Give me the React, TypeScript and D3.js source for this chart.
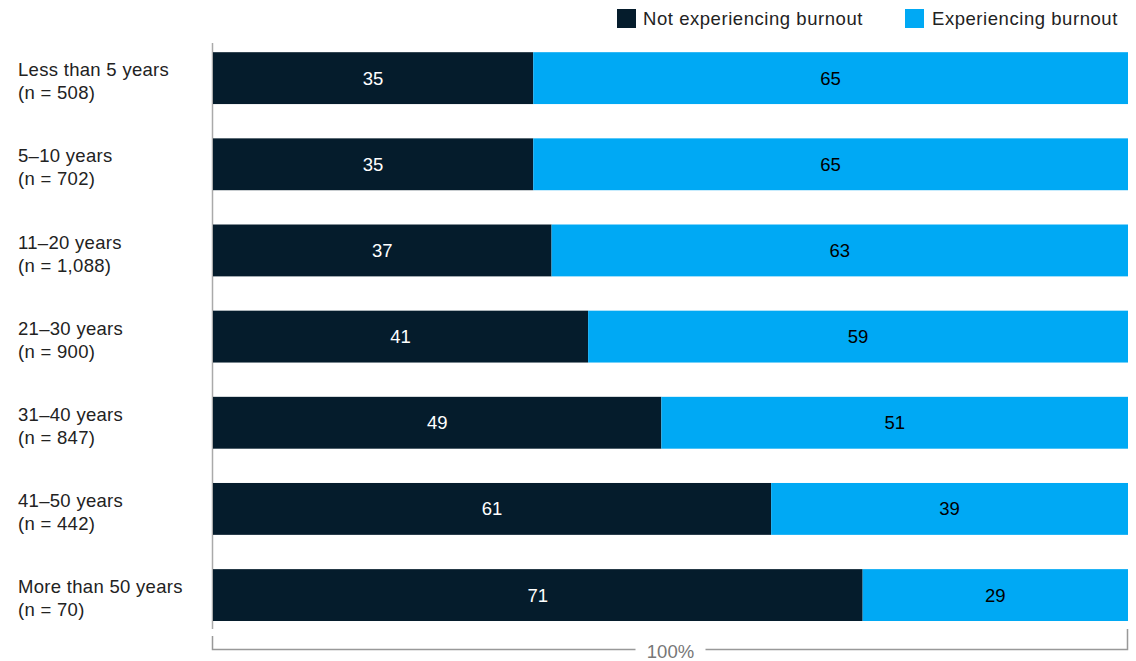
import React from "react";
import * as d3 from "d3";

const categories = [
  ["Less than 5 years", "(n = 508)"],
  ["5–10 years", "(n = 702)"],
  ["11–20 years", "(n = 1,088)"],
  ["21–30 years", "(n = 900)"],
  ["31–40 years", "(n = 847)"],
  ["41–50 years", "(n = 442)"],
  ["More than 50 years", "(n = 70)"],
];
const notBurnout = [35, 35, 37, 41, 49, 61, 71];
const burnout = [65, 65, 63, 59, 51, 39, 29];
const seriesNames = ["Not experiencing burnout", "Experiencing burnout"];
const colors = ["#051c2c", "#00a9f4"];
const totalLabel = "100%";

const W = 1136;
const H = 661;
const FONT = "'Liberation Sans', Arial, Helvetica, sans-serif";
const FS = 18.5;
const LS = 0.3;

export default function App() {
  const x = d3.scaleLinear().domain([0, 100]).range([213, 1128]);
  const y = d3
    .scaleBand<number>()
    .domain(d3.range(categories.length))
    .range([52 - 34.3 / 2 + 0.2, 621 + 34.3 / 2])
    .paddingInner(0.398)
    .paddingOuter(0.199);
  const bw = y.bandwidth();

  return (
    <svg
      width={W}
      height={H}
      style={{ position: "absolute", left: 0, top: 0, fontFamily: FONT }}
    >
      {/* legend */}
      <rect x={617} y={9} width={19} height={19} fill={colors[0]} />
      <text x={643} y={25} fontSize={FS} letterSpacing={0.55} fill="#222">
        {seriesNames[0]}
      </text>
      <rect x={905} y={9} width={19} height={19} fill={colors[1]} />
      <text x={932} y={25} fontSize={FS} letterSpacing={0.55} fill="#222">
        {seriesNames[1]}
      </text>

      {/* axis line */}
      <line x1={212.5} x2={212.5} y1={43} y2={629} stroke="#aaa" strokeWidth={1.5} />

      {categories.map((c, i) => {
        const y0 = y(i)!;
        const a = notBurnout[i];
        const b = burnout[i];
        return (
          <g key={i}>
            <text x={18} y={y0 + 24} fontSize={FS} letterSpacing={LS} fill="#222">
              {c[0]}
            </text>
            <text x={18} y={y0 + 47} fontSize={FS} letterSpacing={LS} fill="#222">
              {c[1]}
            </text>
            <rect x={x(0)} y={y0} width={x(a) - x(0)} height={bw} fill={colors[0]} />
            <rect x={x(a)} y={y0} width={x(a + b) - x(a)} height={bw} fill={colors[1]} />
            <text
              x={(x(0) + x(a)) / 2}
              y={y0 + bw / 2 + 6.5}
              fontSize={FS}
              fill="#fff"
              textAnchor="middle"
            >
              {a}
            </text>
            <text
              x={(x(a) + x(a + b)) / 2}
              y={y0 + bw / 2 + 6.5}
              fontSize={FS}
              fill="#000"
              textAnchor="middle"
            >
              {b}
            </text>
          </g>
        );
      })}

      {/* bracket */}
      <path
        d={`M${x(0) - 0.5},636 V649.5 H${x(50) - 35} M${x(50) + 35},649.5 H${x(100) - 0.5} V629`}
        fill="none"
        stroke="#999"
        strokeWidth={1.5}
      />
      <text x={x(50)} y={657.5} fontSize={FS} fill="#777" textAnchor="middle">
        {totalLabel}
      </text>
    </svg>
  );
}
